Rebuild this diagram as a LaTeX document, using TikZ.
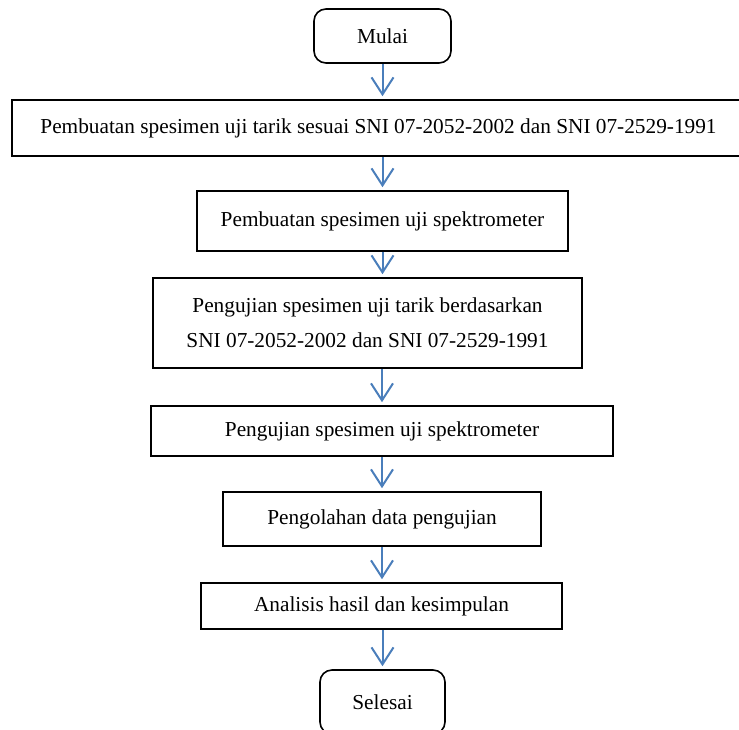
\documentclass[tikz,border=0pt]{standalone}
\usepackage{fontspec}
\setmainfont{Liberation Serif}
\usetikzlibrary{arrows.meta}
\definecolor{flowblue}{HTML}{4A7EBB}
\begin{document}
\begin{tikzpicture}[x=1pt, y=-1pt,
    box/.style={draw, line width=1.6pt, inner sep=0pt, align=center,
      font=\fontsize{21.3}{35}\selectfont},
    term/.style={box, rounded corners=12pt},
    flow/.style={draw=flowblue, line width=2pt,
      -{Straight Barb[length=17pt, width=22pt]}, shorten >=3pt}]

    \useasboundingbox (0, 0) rectangle (739, 729);

    \node[term, minimum width=137pt, minimum height=54pt] (mulai) at (382.5, 36) {Mulai};

    \node[box, minimum width=733pt, minimum height=56pt] (p1) at (378.5, 128)
      {Pembuatan spesimen uji tarik sesuai SNI 07-2052-2002 dan SNI 07-2529-1991};
    \node[box, minimum width=371pt, minimum height=60pt] (p2) at (382.5, 221)
      {Pembuatan spesimen uji spektrometer};
    \node[box, minimum width=429pt, minimum height=90pt] (p3) at (367.5, 323)
      {Pengujian spesimen uji tarik berdasarkan\\SNI 07-2052-2002 dan SNI 07-2529-1991};
    \node[box, minimum width=462pt, minimum height=50pt] (p4) at (382, 431)
      {Pengujian spesimen uji spektrometer};
    \node[box, minimum width=318pt, minimum height=54pt] (p5) at (382, 519)
      {Pengolahan data pengujian};
    \node[box, minimum width=361pt, minimum height=46pt] (p6) at (381.5, 606)
      {Analisis hasil dan kesimpulan};

    \node[term, minimum width=125pt, minimum height=64pt] (selesai) at (382.5, 702) {Selesai};

    \path[flow] (mulai.south) to (mulai.south |- p1.north);
    \path[flow] (p1.south -| p2.south) to (p2.north);
    \path[flow] (p2.south) to (p2.south |- p3.north);
    \path[flow] (p3.south -| p4.south) to (p4.north);
    \path[flow] (p4.south) to (p5.north);
    \path[flow] (p5.south) to (p5.south |- p6.north);
    \path[flow] (p6.south -| selesai.south) to (selesai.north);

  \end{tikzpicture}
\end{document}
